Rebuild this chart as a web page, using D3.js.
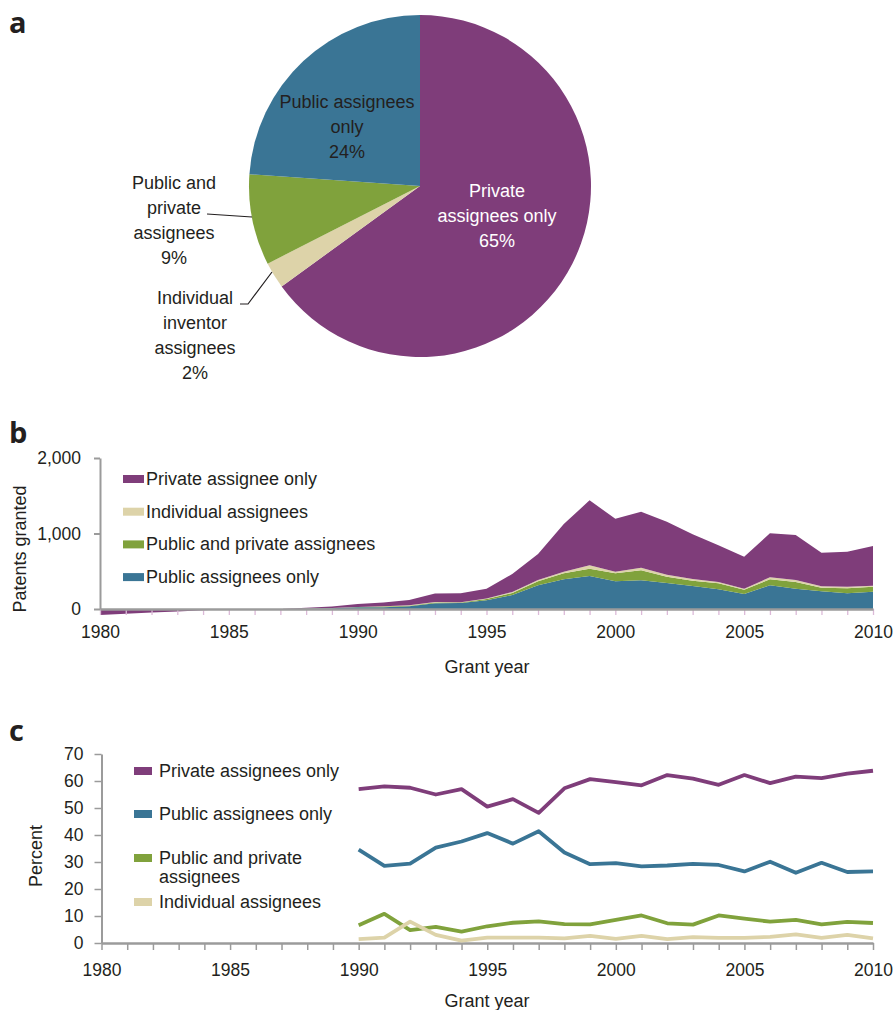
<!DOCTYPE html>
<html>
<head>
<meta charset="utf-8">
<script src="https://cdn.jsdelivr.net/npm/d3@7"></script>
<style>
  body { margin: 0; background: #fff; }
  svg { display: block; }
  text { font-family: "Liberation Sans", Arial, sans-serif; fill: #231f20; }
  .panel { font-family: "Open Sans", "DejaVu Sans", sans-serif; font-weight: 700; font-size: 29px; }
</style>
</head>
<body>
<svg width="895" height="1010"></svg>
<script>
// ---- data ----
// a: share of patents by assignee type (clockwise from 12 o'clock)
var pieKeys = ["private", "individual", "pubpriv", "public"];
var pieShares = [65.0, 2.5, 8.6, 23.9];
var pieText = [
  ["Private", "assignees only", "65%"],
  ["Individual", "inventor", "assignees", "2%"],
  ["Public and", "private", "assignees", "9%"],
  ["Public assignees", "only", "24%"]
];

// b: patents granted per year, stacked
var yearsB = [1980, 1981, 1982, 1983, 1984, 1985, 1986, 1987, 1988, 1989,
  1990, 1991, 1992, 1993, 1994, 1995, 1996, 1997, 1998, 1999,
  2000, 2001, 2002, 2003, 2004, 2005, 2006, 2007, 2008, 2009, 2010];
var publicOnlyB = [0, 0, 0, 0, 0, 0, 0, 0, 4, 9,
  22, 24, 36, 75, 78, 115, 185, 313, 393, 437,
  366, 380, 344, 305, 260, 199, 313, 269, 234, 208, 230];
var pubPrivB = [0, 0, 0, 0, 0, 0, 0, 0, 1, 2,
  4, 9, 6, 12, 9, 17, 27, 53, 79, 97,
  106, 132, 84, 70, 80, 57, 80, 89, 49, 66, 66];
var individualB = [0, 0, 0, 0, 0, 0, 0, 0, 0, 1,
  1, 2, 9, 6, 2, 6, 13, 18, 22, 44,
  22, 35, 27, 22, 18, 13, 26, 26, 17, 22, 13];
var privateB = [-80, -64, -48, -32, -16, 0, 0, 0, 10, 20,
  38, 50, 69, 112, 118, 131, 239, 344, 632, 861,
  702, 742, 702, 592, 485, 424, 583, 596, 446, 463, 525];
var legendB = ["Private assignee only", "Individual assignees", "Public and private assignees", "Public assignees only"];

// c: percent of patents per year
var yearsC = [1990, 1991, 1992, 1993, 1994, 1995, 1996, 1997, 1998, 1999,
  2000, 2001, 2002, 2003, 2004, 2005, 2006, 2007, 2008, 2009, 2010];
var privateC = [57, 58, 57.5, 55, 57, 50.5, 53.3, 48.2, 57.3, 60.7,
  59.6, 58.4, 62.2, 60.9, 58.6, 62.2, 59.2, 61.6, 61.1, 62.7, 63.8];
var publicC = [34.6, 28.6, 29.4, 35.3, 37.6, 40.7, 36.8, 41.4, 33.5, 29.2,
  29.6, 28.4, 28.7, 29.3, 28.9, 26.5, 30.1, 26, 29.7, 26.3, 26.5];
var pubPrivC = [6.6, 10.8, 4.8, 6, 4.2, 6.2, 7.5, 8, 7, 6.9,
  8.6, 10.2, 7.3, 6.8, 10.2, 9, 7.9, 8.6, 6.9, 7.8, 7.4];
var individualC = [1.4, 2, 7.9, 3, 0.9, 2, 2, 2, 1.7, 2.6,
  1.5, 2.6, 1.4, 2.2, 1.9, 1.9, 2.3, 3.2, 1.9, 3, 1.7];
var legendC = [["Private assignees only"], ["Public assignees only"], ["Public and private", "assignees"], ["Individual assignees"]];

var color = { "private": "#7f3d7a", "public": "#3a7595", "pubpriv": "#80a23c", "individual": "#ddd3a9" };
var axisGray = "#9b9b9b";
var labelSize = 18, tickSize = 17.5;

var svg = d3.select("svg");

// ---- panel letters ----
svg.append("text").attr("class", "panel").attr("x", 9).attr("y", 33).text("a");
svg.append("text").attr("class", "panel").attr("x", 9).attr("y", 443).text("b");
svg.append("text").attr("class", "panel").attr("x", 9).attr("y", 741).text("c");

// ---- a: pie ----
var pieG = svg.append("g").attr("transform", "translate(420,186)");
var radius = 171;
var arcs = d3.pie().sort(null).value(function(d) { return d; })(pieShares);
var arc = d3.arc().innerRadius(0).outerRadius(radius);

pieG.selectAll("path")
  .data(arcs)
  .enter().append("path")
  .attr("d", arc)
  .attr("fill", function(d, i) { return color[pieKeys[i]]; });

// label anchor (relative to pie centre) and text colour for each slice
var pieLabelPos = [[77, 11, "#fff"], [-225, 118, "#231f20"], [-246, 3, "#231f20"], [-73, -78, "#231f20"]];
pieText.forEach(function(lines, i) {
  var t = pieG.append("text")
    .attr("text-anchor", "middle")
    .attr("font-size", labelSize)
    .style("fill", pieLabelPos[i][2]);
  lines.forEach(function(s, j) {
    t.append("tspan")
      .attr("x", pieLabelPos[i][0])
      .attr("y", pieLabelPos[i][1] + j * 25)
      .text(s);
  });
});

// leader lines for the two small slices
var leader = d3.line();
pieG.append("path")
  .attr("d", leader([[-213, 28], [-168, 31]]))
  .attr("fill", "none").attr("stroke", "#231f20").attr("stroke-width", 1.2);
pieG.append("path")
  .attr("d", leader([[-180, 118], [-172, 118], [-148, 86]]))
  .attr("fill", "none").attr("stroke", "#231f20").attr("stroke-width", 1.2);

// ---- b: stacked area ----
var xB = d3.scaleLinear().domain([1980, 2010]).range([100, 873]);
var yB = d3.scaleLinear().domain([0, 2000]).range([609, 458]);

var rowsB = yearsB.map(function(y, i) {
  return { year: y, "public": publicOnlyB[i], pubpriv: pubPrivB[i], individual: individualB[i], "private": privateB[i] };
});
var stackB = d3.stack()
  .keys(["public", "pubpriv", "individual", "private"])
  .offset(d3.stackOffsetDiverging)(rowsB);

var areaB = d3.area()
  .x(function(d) { return xB(d.data.year); })
  .y0(function(d) { return yB(d[0]); })
  .y1(function(d) { return yB(d[1]); });

svg.append("g").selectAll("path")
  .data(stackB)
  .enter().append("path")
  .attr("d", areaB)
  .attr("fill", function(d) { return color[d.key]; });

// x ticks (lavender) and axis
svg.append("g")
  .attr("transform", "translate(0,609)")
  .call(d3.axisBottom(xB).tickValues(yearsB).tickSize(6).tickFormat(""))
  .call(function(g) {
    g.select(".domain").remove();
    g.selectAll(".tick line").attr("stroke", "#dcbad8").attr("stroke-width", 1.3);
  });
svg.append("g")
  .attr("transform", "translate(0,609)")
  .call(d3.axisBottom(xB).tickValues([1980, 1985, 1990, 1995, 2000, 2005, 2010]).tickSize(0).tickPadding(17).tickFormat(d3.format("d")))
  .call(function(g) {
    g.select(".domain").attr("stroke", axisGray).attr("stroke-width", 2.5);
    g.selectAll("text").attr("font-size", tickSize).attr("font-family", null);
  });
svg.append("g")
  .attr("transform", "translate(100,0)")
  .call(d3.axisLeft(yB).tickValues([0, 1000, 2000]).tickSize(6).tickPadding(13).tickSizeOuter(0).tickFormat(d3.format(",")))
  .call(function(g) {
    g.select(".domain").attr("stroke", axisGray).attr("stroke-width", 2);
    g.selectAll(".tick line").attr("stroke", axisGray).attr("stroke-width", 2);
    g.selectAll("text").attr("font-size", tickSize).attr("font-family", null);
  });

svg.append("text").attr("x", 487).attr("y", 673).attr("text-anchor", "middle").attr("font-size", labelSize).text("Grant year");
svg.append("text").attr("transform", "translate(26,549) rotate(-90)").attr("text-anchor", "middle").attr("font-size", labelSize).text("Patents granted");

var legB = svg.append("g").selectAll("g")
  .data(legendB)
  .enter().append("g")
  .attr("transform", function(d, i) { return "translate(123," + (479 + i * 32.7) + ")"; });
legB.append("rect").attr("x", 0).attr("y", -4).attr("width", 21).attr("height", 8)
  .attr("fill", function(d, i) { return color[["private", "individual", "pubpriv", "public"][i]]; });
legB.append("text").attr("x", 23).attr("y", 6).attr("font-size", labelSize).text(function(d) { return d; });

// ---- c: lines ----
var xC = d3.scaleLinear().domain([1980, 2010]).range([101.5, 873]);
var yC = d3.scaleLinear().domain([0, 70]).range([943, 754]);

var seriesC = [
  { key: "private", values: privateC },
  { key: "public", values: publicC },
  { key: "pubpriv", values: pubPrivC },
  { key: "individual", values: individualC }
];
var lineC = d3.line()
  .x(function(d, i) { return xC(yearsC[i]); })
  .y(function(d) { return yC(d); });

svg.append("g")
  .attr("transform", "translate(0,943)")
  .call(d3.axisBottom(xC).tickValues(yearsB).tickSize(7).tickFormat(function(d) { return d % 5 === 0 ? d : ""; }).tickPadding(14).tickSizeOuter(0))
  .call(function(g) {
    g.select(".domain").attr("stroke", axisGray).attr("stroke-width", 2.5);
    g.selectAll(".tick line").attr("stroke", axisGray).attr("stroke-width", 1.5);
    g.selectAll("text").attr("font-size", tickSize).attr("font-family", null);
  });
svg.append("g")
  .attr("transform", "translate(101.5,0)")
  .call(d3.axisLeft(yC).tickValues([0, 10, 20, 30, 40, 50, 60, 70]).tickSize(7).tickPadding(11).tickSizeOuter(0))
  .call(function(g) {
    g.select(".domain").attr("stroke", axisGray).attr("stroke-width", 2);
    g.selectAll(".tick line").attr("stroke", axisGray).attr("stroke-width", 1.5);
    g.selectAll("text").attr("font-size", tickSize).attr("font-family", null);
  });

svg.append("g").selectAll("path")
  .data(seriesC)
  .enter().append("path")
  .attr("d", function(d) { return lineC(d.values); })
  .attr("fill", "none")
  .attr("stroke", function(d) { return color[d.key]; })
  .attr("stroke-width", 3.8)
  .attr("stroke-linejoin", "round");

svg.append("text").attr("x", 487).attr("y", 1007).attr("text-anchor", "middle").attr("font-size", labelSize).text("Grant year");
svg.append("text").attr("transform", "translate(42,856) rotate(-90)").attr("text-anchor", "middle").attr("font-size", labelSize).text("Percent");

var legYC = [771, 814, 858, 902];
var legC = svg.append("g").selectAll("g")
  .data(legendC)
  .enter().append("g")
  .attr("transform", function(d, i) { return "translate(134," + legYC[i] + ")"; });
legC.append("rect").attr("x", 0).attr("y", -4).attr("width", 18).attr("height", 8)
  .attr("fill", function(d, i) { return color[seriesC[i].key]; });
legC.each(function(lines) {
  var t = d3.select(this).append("text").attr("font-size", labelSize);
  lines.forEach(function(s, j) {
    t.append("tspan").attr("x", 25).attr("y", 6 + j * 19).text(s);
  });
});
</script>
</body>
</html>
